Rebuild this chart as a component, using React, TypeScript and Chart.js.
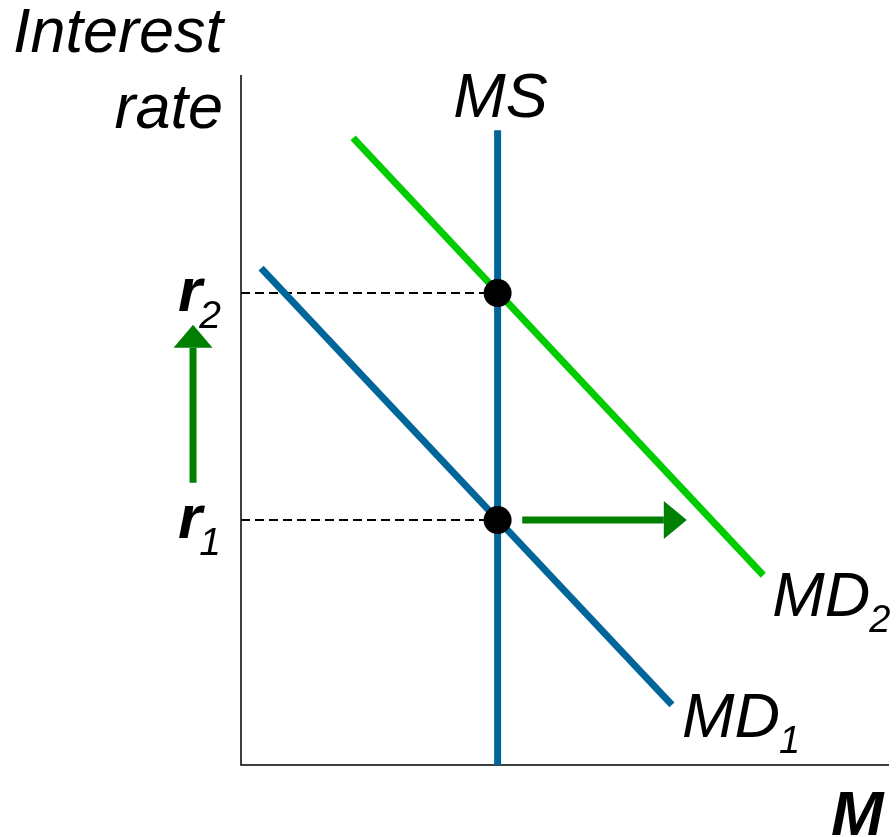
import React, { useEffect, useRef } from "react";
import { Chart, registerables } from "chart.js";

Chart.register(...registerables);

// ---- Data (abstract units: M on x 0..100, interest rate on y 0..100) ----
const msX = [39.6, 39.6];
const msY = [0, 92];
const md1X = [3.1, 66.5];
const md1Y = [72.0, 8.7];
const md2X = [17.3, 80.6];
const md2Y = [90.9, 27.5];
const rateLevels = [35.5, 68.4]; // r1, r2
const eqX = 39.6;
const shiftArrowX = [43.4, 68.8];
const shiftArrowY = 35.5;
const rateArrowX = -7.4;
const rateArrowY = [40.9, 63.8];
const rateLabels = ["r", "r"];
const rateSubs = ["1", "2"];
const curveLabels = ["MD", "MD"];
const curveSubs = ["1", "2"];
const msLabel = "MS";
const yTitle = ["Interest", "rate"];
const xTitle = "M";

const BLUE = "rgb(0,102,153)";
const GREEN = "rgb(0,204,0)";
const DARKGREEN = "rgb(0,128,0)";
const FONT = "'Liberation Sans', Arial, sans-serif";

const pts = (xs: number[], ys: number[]) => xs.map((x, i) => ({ x, y: ys[i] }));

const overlay = {
  id: "overlay",
  beforeDatasetsDraw(chart: any) {
    const { ctx, chartArea } = chart;
    ctx.save();
    ctx.strokeStyle = "#000";
    ctx.lineWidth = 1.5;
    ctx.beginPath();
    ctx.moveTo(chartArea.left, chartArea.top);
    ctx.lineTo(chartArea.left, chartArea.bottom);
    ctx.lineTo(chartArea.right, chartArea.bottom);
    ctx.stroke();
    ctx.restore();
  },
  afterDatasetsDraw(chart: any) {
    const { ctx, chartArea } = chart;
    const xs = chart.scales.x;
    const ys = chart.scales.y;
    const px = (v: number) => xs.getPixelForValue(v);
    const py = (v: number) => ys.getPixelForValue(v);
    ctx.save();
    ctx.fillStyle = DARKGREEN;
    ctx.strokeStyle = DARKGREEN;
    // right shift arrow
    {
      const x0 = px(shiftArrowX[0]);
      const x1 = px(shiftArrowX[1]);
      const y = py(shiftArrowY);
      const head = 23;
      ctx.lineWidth = 7;
      ctx.beginPath();
      ctx.moveTo(x0, y);
      ctx.lineTo(x1 - head, y);
      ctx.stroke();
      ctx.beginPath();
      ctx.moveTo(x1, y);
      ctx.lineTo(x1 - head, y - 19);
      ctx.lineTo(x1 - head, y + 19);
      ctx.closePath();
      ctx.fill();
    }
    // up arrow (rate rises)
    {
      const x = px(rateArrowX);
      const y0 = py(rateArrowY[0]);
      const y1 = py(rateArrowY[1]);
      const head = 23;
      ctx.lineWidth = 7;
      ctx.beginPath();
      ctx.moveTo(x, y0);
      ctx.lineTo(x, y1 + head);
      ctx.stroke();
      ctx.beginPath();
      ctx.moveTo(x, y1);
      ctx.lineTo(x - 19.5, y1 + head);
      ctx.lineTo(x + 19.5, y1 + head);
      ctx.closePath();
      ctx.fill();
    }

    ctx.fillStyle = "#000";
    ctx.textBaseline = "alphabetic";
    // y title
    ctx.font = `italic 63px ${FONT}`;
    ctx.textAlign = "right";
    ctx.fillText(yTitle[0], chartArea.left - 18, 52);
    ctx.fillText(yTitle[1], chartArea.left - 18, 128);
    // x title
    ctx.font = `italic bold 63px ${FONT}`;
    ctx.textAlign = "left";
    ctx.fillText(xTitle, chartArea.right - 58, chartArea.bottom + 70);
    // MS label
    ctx.font = `italic 63px ${FONT}`;
    ctx.textAlign = "center";
    ctx.fillText(msLabel, px(msX[1]) + 3, py(msY[1]) - 13);
    // MD labels
    ctx.textAlign = "left";
    const ends = [
      { x: px(md1X[1]) + 10, y: py(md1Y[1]) + 32 },
      { x: px(md2X[1]) + 9, y: py(md2Y[1]) + 41 },
    ];
    ends.forEach((p, i) => {
      ctx.font = `italic 63px ${FONT}`;
      ctx.fillText(curveLabels[i], p.x, p.y);
      const w = ctx.measureText(curveLabels[i]).width;
      ctx.font = `italic 38px ${FONT}`;
      ctx.fillText(curveSubs[i], p.x + w - 1, p.y + 16);
    });
    // r labels
    rateLevels.forEach((lv, i) => {
      const y = py(lv);
      const x = chartArea.left - 63;
      ctx.font = `italic bold 62px ${FONT}`;
      ctx.fillText(rateLabels[i], x, y + 18);
      const w = ctx.measureText(rateLabels[i]).width;
      ctx.font = `italic 39px ${FONT}`;
      ctx.fillText(rateSubs[i], x + w - 3, y + 35);
    });
    ctx.restore();
  },
};

export default function App() {
  const ref = useRef<HTMLCanvasElement | null>(null);
  useEffect(() => {
    if (!ref.current) return;
    const dashed = (lv: number) => ({
      data: pts([0, eqX], [lv, lv]),
      borderColor: "#000",
      borderWidth: 2,
      borderDash: [9, 5],
      pointRadius: 0,
      showLine: true,
      clip: false,
      order: 5,
    });
    const chart = new Chart(ref.current, {
      type: "scatter",
      data: {
        datasets: [
          {
            data: rateLevels.map((lv) => ({ x: eqX, y: lv })),
            backgroundColor: "#000",
            borderColor: "#000",
            pointRadius: 14,
            pointHoverRadius: 14,
            borderWidth: 0,
            showLine: false,
            clip: false,
            order: 0,
          },
          { data: pts(msX, msY), borderColor: BLUE, borderWidth: 7, pointRadius: 0, showLine: true, clip: false, order: 1 },
          { data: pts(md1X, md1Y), borderColor: BLUE, borderWidth: 7, pointRadius: 0, showLine: true, clip: false, order: 2 },
          { data: pts(md2X, md2Y), borderColor: GREEN, borderWidth: 7, pointRadius: 0, showLine: true, clip: false, order: 3 },
          ...rateLevels.map(dashed),
        ] as any,
      },
      options: {
        responsive: false,
        animation: false,
        layout: { autoPadding: false, padding: { left: 241, right: 7, top: 75, bottom: 72 } },
        plugins: { legend: { display: false }, tooltip: { enabled: false } },
        scales: {
          x: { type: "linear", min: 0, max: 100, display: false },
          y: { type: "linear", min: 0, max: 100, display: false },
        },
        elements: { line: { borderCapStyle: "butt" } },
      } as any,
      plugins: [overlay],
    });
    return () => chart.destroy();
  }, []);
  return (
    <div style={{ position: "absolute", left: 0, top: 0, width: 896, height: 837, background: "#fff" }}>
      <canvas ref={ref} width={896} height={837} />
    </div>
  );
}
